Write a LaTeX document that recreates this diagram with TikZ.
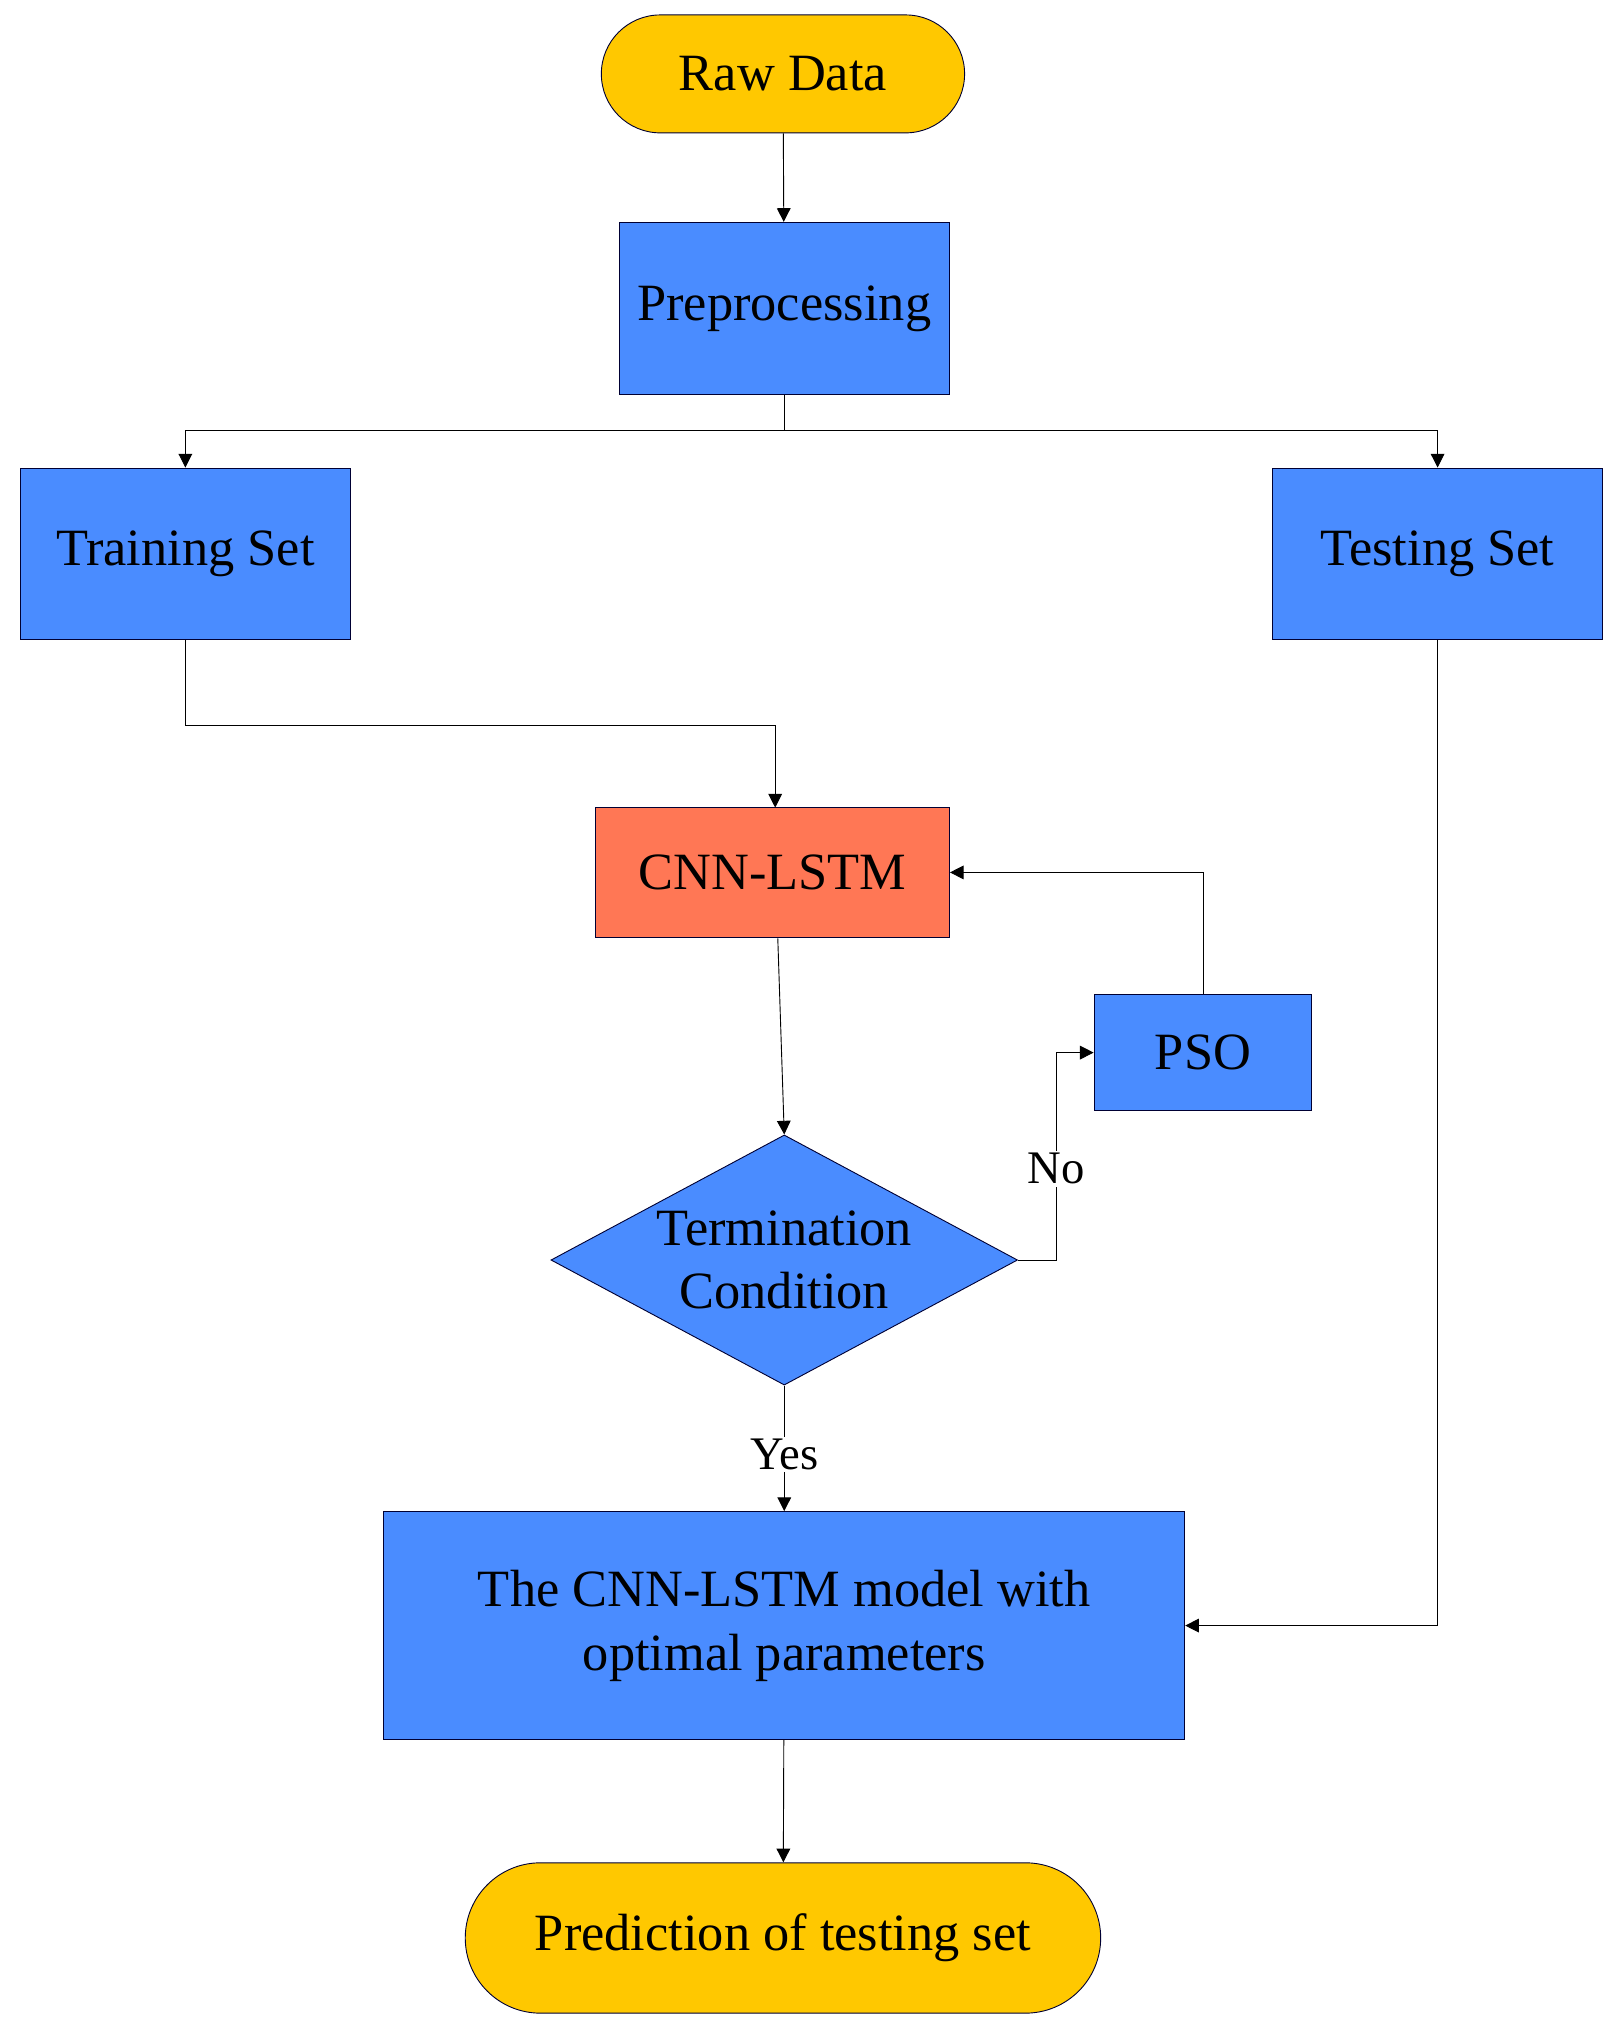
\documentclass[tikz,border=0pt]{standalone}
\usepackage{fontspec}
\setmainfont{Liberation Serif}
\usetikzlibrary{shapes.geometric,arrows.meta,positioning}
\definecolor{boxblue}{HTML}{4A8CFF}
\definecolor{termyellow}{HTML}{FFC800}
\definecolor{modelred}{HTML}{FF7755}
\tikzset{
  box/.style={draw=black!80!blue,fill=boxblue,minimum width=#1,align=center,font=\fontsize{23}{28}\selectfont},
  term/.style={draw=black!80!blue,fill=termyellow,rounded rectangle,font=\fontsize{23}{28}\selectfont},
  flow/.style={-{Triangle[length=6pt,width=6pt]},thin},
  lbl/.style={font=\fontsize{20.5}{24}\selectfont}
}
\usetikzlibrary{shapes.misc}
\begin{document}
\begin{tikzpicture}[x=0.02cm,y=-0.02cm]
\useasboundingbox (0,0) rectangle (1250,1566);

\node[term,minimum width=5.84cm,minimum height=1.82cm] (raw) at (604,57) {Raw Data};
\node[box=5.1cm,minimum height=2.66cm] (prep) at (605,238) {Preprocessing};
\node[box=5.1cm,minimum height=2.64cm] (train) at (143,427) {Training Set};
\node[box=5.1cm,minimum height=2.64cm] (test) at (1109,427) {Testing Set};
\node[box=5.46cm,minimum height=2.02cm,fill=modelred] (cnn) at (596,673) {CNN-LSTM};
\node[box=3.36cm,minimum height=1.8cm] (pso) at (928,812) {PSO};
\node[draw=black!80!blue,fill=boxblue,diamond,aspect=1.87,minimum width=7.2cm,minimum height=3.86cm,inner sep=0pt,align=center,font=\fontsize{23}{28}\selectfont] (term) at (605,972) {Termination\\Condition};
\node[box=12.36cm,minimum height=3.52cm] (model) at (605,1254) {The CNN-LSTM model with\\optimal parameters};
\node[term,minimum width=10.04cm,minimum height=2.32cm] (pred) at (604,1495) {Prediction of testing set};

\coordinate (split) at (605,332);
\draw[flow] (raw) -- (prep);
\draw (prep) -- (split);
\draw[flow] (split) -| (train);
\draw[flow] (split) -| (test);
\draw[flow] (train.south) |- (598,560) -- (598,623);
\draw[flow] (cnn.south -| 600,0) -- (term.north);
\draw[flow] (pso.north) |- (cnn.east);
\draw[flow] (term.east) -| (815,812) node[lbl,pos=0.72,fill=white,inner sep=1pt] {No} -- (pso.west);
\draw[flow] (term.south) -- node[lbl,fill=white,inner sep=1pt,pos=0.55] {Yes} (model.north);
\draw[flow] (test.south) |- (model.east);
\draw[flow] (model) -- (pred);
\end{tikzpicture}
\end{document}
